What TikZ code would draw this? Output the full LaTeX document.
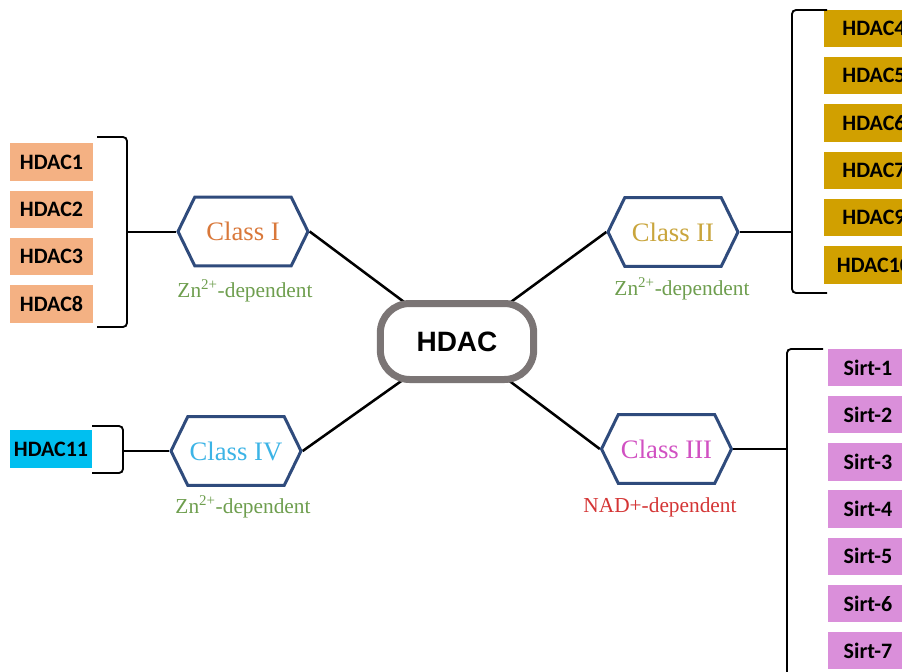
\documentclass[tikz,border=0pt]{standalone}
\usepackage{fontspec}
\usepackage{xcolor}
\setmainfont{Liberation Serif}
\newfontfamily\boxfont{Carlito}
\newfontfamily\hubfont{Liberation Sans}
\usetikzlibrary{shapes.symbols,backgrounds}

\definecolor{hexblue}{HTML}{2F4B7C}
\definecolor{hubgray}{HTML}{7B7575}
\definecolor{salmon}{HTML}{F4B183}
\definecolor{goldbox}{HTML}{D1A000}
\definecolor{skycyan}{HTML}{00BFF0}
\definecolor{orchidbox}{HTML}{DA8FDA}
\definecolor{classone}{HTML}{D9783A}
\definecolor{classtwo}{HTML}{C9A53C}
\definecolor{classthree}{HTML}{D150C2}
\definecolor{classfour}{HTML}{3CB4E6}
\definecolor{depgreen}{HTML}{6E9E4E}
\definecolor{depred}{HTML}{D43535}

\begin{document}
\begin{tikzpicture}[x=0.75pt,y=0.75pt,yscale=-1,xscale=1,
  member/.style={fill=#1, minimum height=28pt, inner sep=0pt, text=black,
    font=\boxfont\bfseries\fontsize{16.5}{18}\selectfont},
  classbox/.style={shape=signal, signal to=west and east, signal pointer angle=128,
    draw=hexblue, line width=2.25pt, fill=white, minimum width=97.5pt,
    minimum height=51.5pt, inner sep=0pt, font=\fontsize{20}{22}\selectfont},
  dependent/.style={font=\fontsize{16}{18}\selectfont},
  link/.style={line width=1.9pt},
  brace/.style={line width=1.4pt, rounded corners=3pt}]

\useasboundingbox (0,0) rectangle (902,671);
\clip (0,0) rectangle (902,671);

% centre
\node[draw=hubgray, line width=5.25pt, rounded corners=22pt, fill=white,
  minimum width=115pt, minimum height=57pt,
  font=\hubfont\bfseries\fontsize{21}{24}\selectfont] (hdac) at (457,341.5) {HDAC};

% classes
\node[classbox, text=classone] (c1) at (243,231.5) {Class I};
\node[classbox, text=classtwo] (c2) at (673,232) {Class II};
\node[classbox, text=classthree] (c3) at (666.5,449) {Class III};
\node[classbox, text=classfour] (c4) at (236,451) {Class IV};

\node[dependent, text=depgreen] (d1) at (245,291) {Zn\textsuperscript{2+}-dependent};
\node[dependent, text=depgreen] (d2) at (682,289) {Zn\textsuperscript{2+}-dependent};
\node[dependent, text=depred] (d3) at (660,507) {NAD+-dependent};
\node[dependent, text=depgreen] (d4) at (243,507) {Zn\textsuperscript{2+}-dependent};

\begin{scope}[on background layer]
\draw[link] (c1.east) -- (hdac.center);
\draw[link] (c2.west) -- (hdac.center);
\draw[link] (c3.west) -- (hdac.center);
\draw[link] (c4.east) -- (hdac.center);
\end{scope}

% members
\foreach \name [count=\i] in {HDAC1,HDAC2,HDAC3,HDAC8}
  \node[member=salmon, minimum width=62pt] (m1-\i) at (51.5,{162+47.3*(\i-1)}) {\name};
\foreach \name [count=\i] in {HDAC4,HDAC5,HDAC6,HDAC7,HDAC9,HDAC10}
  \node[member=goldbox, minimum width=75pt] (m2-\i) at (874,{28.5+47.3*(\i-1)}) {\name};
\foreach \name [count=\i] in {Sirt-1,Sirt-2,Sirt-3,Sirt-4,Sirt-5,Sirt-6,Sirt-7}
  \node[member=orchidbox, minimum width=60pt] (m3-\i) at (868,{367.5+47.2*(\i-1)}) {\name};
\node[member=skycyan, minimum width=61.5pt] (m4-1) at (51,449) {HDAC11};

% brackets
\draw[brace] (97,137) -- (127,137) -- (127,327) -- (97,327);
\coordinate (b1) at (127,231.5);
\draw[brace] (827,10) -- (792,10) -- (792,293) -- (827,293);
\coordinate (b2) at (792,232);
\draw[brace] (823,349) -- (787,349) -- (787,690);
\coordinate (b3) at (787,449);
\draw[brace] (92,426) -- (123,426) -- (123,473) -- (92,473);
\coordinate (b4) at (123,451);

\draw[link, line width=1.5pt] (b1) -- (c1.west);
\draw[link, line width=1.5pt] (b2) -- (c2.east);
\draw[link, line width=1.5pt] (b3) -- (c3.east);
\draw[link, line width=1.5pt] (b4) -- (c4.west);
\end{tikzpicture}
\end{document}
